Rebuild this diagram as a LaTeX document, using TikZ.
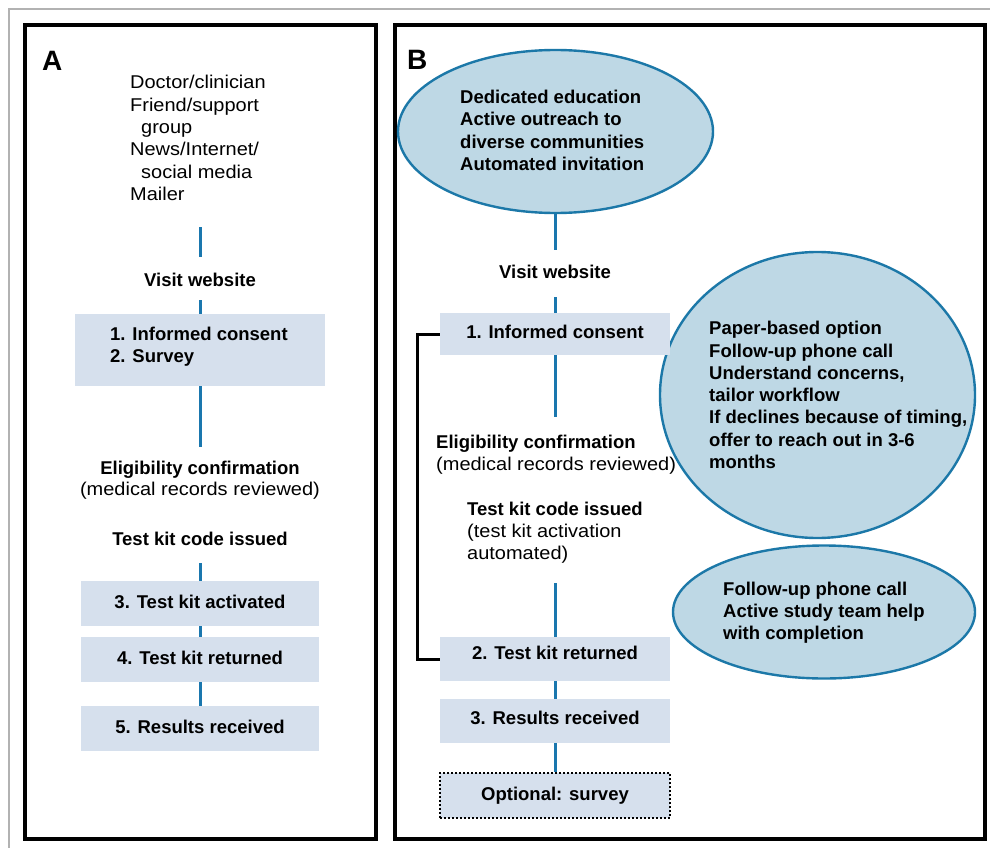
\documentclass[tikz,border=0pt]{standalone}
\usepackage{fontspec}
\setmainfont{Liberation Sans}
\newfontfamily\rgfont[FakeStretch=1.08]{Liberation Sans}
\usetikzlibrary{shapes.geometric}
\definecolor{boxfill}{HTML}{D6E0ED}
\definecolor{ellfill}{HTML}{BED8E5}
\definecolor{ellline}{HTML}{1C78A8}
\definecolor{conncol}{HTML}{1A77AE}
\begin{document}
\begin{tikzpicture}[x=1pt,y=-1pt,
  bt/.style={inner sep=0pt, font=\fontsize{18.5}{22.3}\selectfont\bfseries},
  rt/.style={inner sep=0pt, font=\fontsize{18.5}{22.3}\selectfont\rgfont},
  lbl/.style={text height=13.5pt, text depth=4pt},
  stepbox/.style={bt, lbl, fill=boxfill, minimum height=45pt, minimum width=238pt},
  ell/.style={ellipse, draw=ellline, line width=2.4pt, fill=ellfill, inner sep=0pt},
  conn/.style={draw=conncol, line width=3pt},
  frame/.style={draw=black, line width=3.2pt},
  panellabel/.style={inner sep=0pt, font=\fontsize{28}{30}\selectfont\bfseries, anchor=base west},
  bracket/.style={draw=black, line width=3pt}
]
\useasboundingbox (0,0) rectangle (990,848);
\fill[white] (0,0) rectangle (990,848);
% outer thin frame
\draw[gray!60, line width=1.5pt] (9,848) -- (9,9) -- (990,9);
% panel frames
\draw[frame] (25,25) rectangle (376,839);
\draw[frame] (395,25) rectangle (985,839);

% ---------- Panel A ----------
\node[panellabel] (labA) at (42,71) {A};
\node[rt, align=left, anchor=west] (a-src) at (130,138)
  {Doctor/clinician\\Friend/support\\\hspace*{11pt}group\\News/Internet/\\\hspace*{11pt}social media\\Mailer};
\node[bt, lbl, anchor=base] (a-visit) at (200,286) {Visit website};
\node[fill=boxfill, minimum width=250pt, minimum height=72pt, inner sep=0pt] (a-box1) at (200,350) {};
\node[bt, align=left, anchor=west] (a-box1t) at (110,347) {1. Informed consent\\2. Survey};
\node[bt, lbl, anchor=base] (a-elig) at (200,474) {Eligibility confirmation};
\node[rt, lbl, anchor=base] (a-elig2) at (200,495) {(medical records reviewed)};
\node[bt, lbl, anchor=base] (a-code) at (200,545) {Test kit code issued};
\node[stepbox] (a-box3) at (200,603.5) {3. Test kit activated};
\node[stepbox] (a-box4) at (200,659.5) {4. Test kit returned};
\node[stepbox] (a-box5) at (200,728.5) {5. Results received};

\draw[conn, shorten <=26.7pt, shorten >=15.5pt] (a-visit.north |- a-src.south) -- (a-visit.north);
\draw[conn, shorten <=10pt] (a-visit.south) -- (a-box1.north);
\draw[conn, shorten >=13.5pt] (a-box1.south) -- (a-elig.north);
\draw[conn, shorten <=14pt] (a-code.south) -- (a-box3.north);
\draw[conn] (a-box3.south) -- (a-box4.north);
\draw[conn] (a-box4.south) -- (a-box5.north);

% ---------- Panel B ----------
\node[ell, minimum width=315pt, minimum height=163pt] (b-ell1) at (555.5,131.5) {};
\node[ell, minimum width=315pt, minimum height=286pt] (b-ell2) at (817.5,395) {};
\node[ell, minimum width=302pt, minimum height=133pt] (b-ell3) at (824,612) {};

\node[panellabel] (labB) at (407,70) {B};
\node[bt, align=left, anchor=west] (b-ell1t) at (460,130.3)
  {Dedicated education\\Active outreach to\\diverse communities\\Automated invitation};
\node[bt, align=left, anchor=west] (b-ell2t) at (709,395)
  {Paper-based option\\Follow-up phone call\\Understand concerns,\\tailor workflow\\If declines because of timing,\\offer to reach out in 3-6\\months};
\node[bt, align=left, anchor=west] (b-ell3t) at (723,612.7)
  {Follow-up phone call\\Active study team help\\with completion};

\node[bt, lbl, anchor=base] (b-visit) at (555,278) {Visit website};
\node[stepbox, minimum width=230pt, minimum height=42pt] (b-box1) at (555,334) {1. Informed consent};
\node[bt, lbl, anchor=base west] (b-elig) at (436,448) {Eligibility confirmation};
\node[rt, lbl, anchor=base west] (b-elig2) at (436,470) {(medical records reviewed)};
\node[bt, lbl, anchor=base west] (b-code) at (467,515) {Test kit code issued};
\node[rt, lbl, anchor=base west] (b-code2) at (467,537) {(test kit activation};
\node[rt, lbl, anchor=base west] (b-code3) at (467,559) {automated)};
\node[stepbox, minimum width=230pt, minimum height=44pt, text depth=13pt] (b-box2) at (555,659) {2. Test kit returned};
\node[stepbox, minimum width=230pt, minimum height=44pt, text depth=6pt] (b-box3) at (555,721) {3. Results received};
\node[stepbox, minimum width=230pt, minimum height=45pt, draw=black, line width=2pt, dash pattern=on 2pt off 2pt] (b-box4) at (555,795.5) {Optional: survey};

\draw[conn, shorten >=14.5pt] (b-visit.north |- b-ell1.south) -- (b-visit.north);
\draw[conn, shorten <=15pt] (b-visit.south) -- (b-box1.north);
\draw[conn, shorten >=17.5pt] (b-box1.south) -- (b-box1.south |- b-elig.north);
\draw[conn, shorten <=20pt] (b-box2.north |- b-code3.south) -- (b-box2.north);
\draw[conn] (b-box2.south) -- (b-box3.north);
\draw[conn] (b-box3.south) -- (b-box4.north);
\draw[bracket] (b-box1.west) -- ++(-22,0) |- (b-box2.west);
\end{tikzpicture}
\end{document}
